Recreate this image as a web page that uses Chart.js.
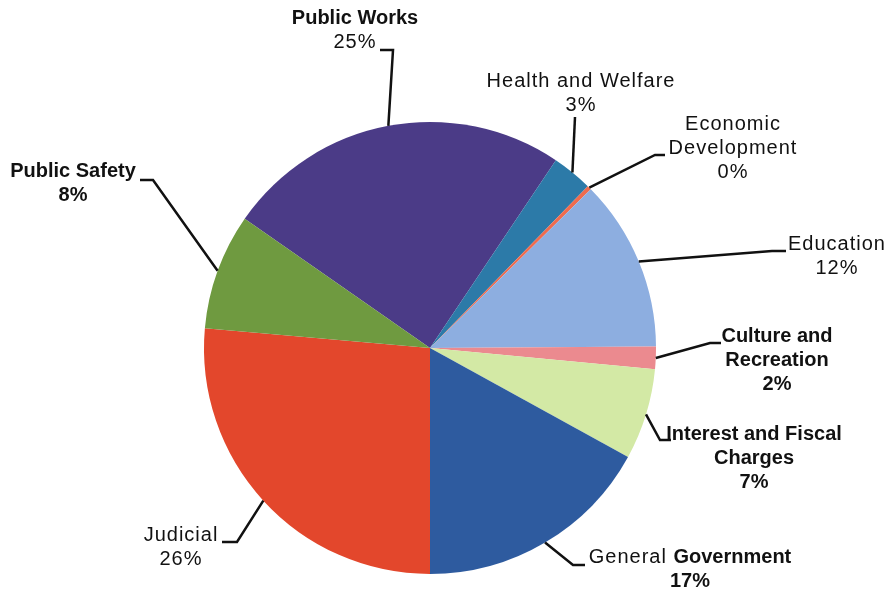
<!DOCTYPE html>
<html>
<head>
<meta charset="utf-8">
<script src="https://cdn.jsdelivr.net/npm/chart.js@4/dist/chart.umd.min.js"></script>
<style>
  html, body { margin: 0; padding: 0; background: #fff; }
  #wrap { width: 893px; height: 598px; position: relative; }
</style>
</head>
<body>
<div id="wrap"><canvas id="expense-chart"></canvas></div>
<script>
// Expenses by function, share of total (%)
const categories = ['Public Works', 'Health and Welfare', 'Economic Development', 'Education',
    'Culture and Recreation', 'Interest and Fiscal Charges', 'General Government', 'Judicial', 'Public Safety'];
const shares = [24.7, 2.9, 0.3, 12.3, 1.6, 6.5, 17.0, 26.4, 8.3];
const colors = ['#4b3b87', '#2c7aa8', '#ef6b4e', '#8daee0', '#eb8a8f', '#d3e9a5', '#2e5b9f', '#e3472c', '#6f9a40'];

// label placement: first row centre, words per row, bold words, leader elbow + end
const labelLayout = [
    { x: 355, y: 18,  rows: [2],    bold: [0, 1],       boldPct: false, leader: [[393, 50], [380, 50]] },
    { x: 581, y: 81,  rows: [3],    bold: [],           boldPct: false, leader: [[575, 117]] },
    { x: 733, y: 124, rows: [1, 1], bold: [],           boldPct: false, leader: [[655, 155], [665, 155]] },
    { x: 837, y: 244, rows: [1],    bold: [],           boldPct: false, leader: [[772, 251], [786, 251]] },
    { x: 777, y: 336, rows: [2, 1], bold: [0, 1, 2],    boldPct: true,  leader: [[710, 343], [721, 343]] },
    { x: 754, y: 434, rows: [3, 1], bold: [0, 1, 2, 3], boldPct: true,  leader: [[660, 440], [671, 440]] },
    { x: 690, y: 557, rows: [2],    bold: [1],          boldPct: true,  leader: [[573, 565], [585, 565]] },
    { x: 181, y: 535, rows: [1],    bold: [],           boldPct: false, leader: [[237, 542], [222, 542]] },
    { x: 73,  y: 171, rows: [2],    bold: [0, 1],       boldPct: true,  leader: [[153, 180], [140, 180]] },
];

const FONT = 'Arial, "Liberation Sans", sans-serif';
const LINE_H = 24;

function setFont(ctx, bold) {
    ctx.font = (bold ? 'bold ' : '') + '20px ' + FONT;
    ctx.letterSpacing = bold ? '0px' : '1px';
}

// draw a row of words, some bold, centred on x
function drawRow(ctx, words, x, y) {
    let total = 0;
    const widths = words.map((w, i) => {
        setFont(ctx, w.bold);
        const t = w.text + (i < words.length - 1 ? ' ' : '');
        const m = ctx.measureText(t).width;
        total += m;
        return m;
    });
    let cx = x - total / 2;
    words.forEach((w, i) => {
        setFont(ctx, w.bold);
        ctx.fillText(w.text, cx, y);
        cx += widths[i];
    });
}

const sliceLabels = {
    id: 'sliceLabels',
    afterDatasetsDraw(chart) {
        const ctx = chart.ctx;
        const arcs = chart.getDatasetMeta(0).data;
        ctx.save();
        ctx.fillStyle = '#111';
        ctx.strokeStyle = '#111';
        ctx.lineWidth = 2.5;
        ctx.lineJoin = 'miter';
        ctx.textAlign = 'left';
        ctx.textBaseline = 'middle';
        arcs.forEach((arc, i) => {
            const lay = labelLayout[i];
            const mid = (arc.startAngle + arc.endAngle) / 2;
            const sx = arc.x + Math.cos(mid) * arc.outerRadius;
            const sy = arc.y + Math.sin(mid) * arc.outerRadius;
            ctx.beginPath();
            ctx.moveTo(sx, sy);
            lay.leader.forEach(p => ctx.lineTo(p[0], p[1]));
            ctx.stroke();

            const words = categories[i].split(' ').map((t, k) => ({ text: t, bold: lay.bold.includes(k) }));
            let y = lay.y;
            let k = 0;
            lay.rows.forEach(n => {
                drawRow(ctx, words.slice(k, k + n), lay.x, y);
                k += n;
                y += LINE_H;
            });
            drawRow(ctx, [{ text: Math.round(shares[i]) + '%', bold: lay.boldPct }], lay.x, y);
        });
        ctx.restore();
    }
};

const expenseChart = new Chart(document.getElementById('expense-chart'), {
    type: 'pie',
    data: {
        labels: categories,
        datasets: [{
            data: shares,
            backgroundColor: colors,
            borderWidth: 0,
        }]
    },
    options: {
        responsive: true,
        maintainAspectRatio: false,
        animation: false,
        rotation: -55.08,
        layout: {
            padding: { top: 122, bottom: 24, left: 204, right: 237 }
        },
        plugins: {
            legend: { display: false },
            tooltip: { enabled: false }
        }
    },
    plugins: [sliceLabels]
});
</script>
</body>
</html>
